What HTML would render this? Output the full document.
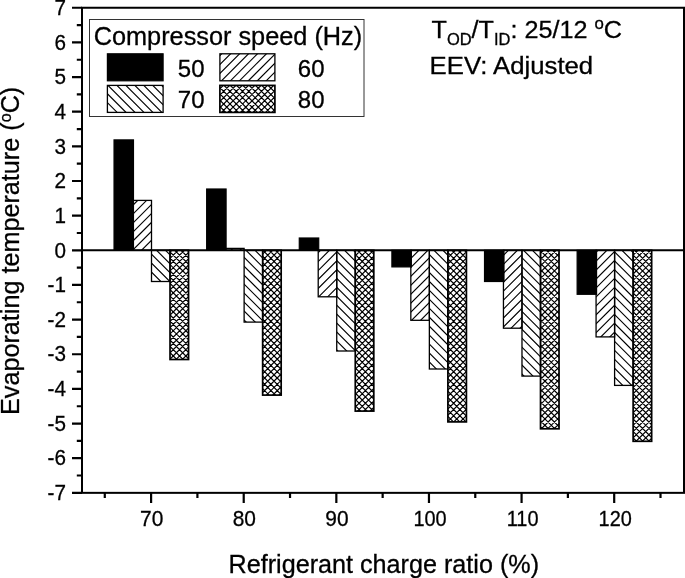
<!DOCTYPE html>
<html lang="en"><head><meta charset="utf-8"><title>Evaporating temperature vs refrigerant charge ratio</title>
<style>html,body{margin:0;padding:0;background:#fff}svg{display:block}text{font-family:"Liberation Sans",Arial,Helvetica,sans-serif;fill:#000;stroke:#000;stroke-width:0.3px}</style></head><body>
<svg width="685" height="578" viewBox="0 0 685 578">
<defs>
<clipPath id="c1"><rect x="132.97" y="200.4" width="18.53" height="49.9"/><rect x="225.59" y="248.4" width="18.53" height="1.9"/><rect x="318.21" y="250.3" width="18.53" height="46.5"/><rect x="410.83" y="250.3" width="18.53" height="70.0"/><rect x="503.45" y="250.3" width="18.53" height="77.9"/><rect x="596.07" y="250.3" width="18.53" height="86.6"/><rect x="219.9" y="53.8" width="55.0" height="27"/></clipPath>
<clipPath id="c2"><rect x="151.5" y="250.3" width="18.53" height="31.2"/><rect x="244.12" y="250.3" width="18.53" height="71.8"/><rect x="336.74" y="250.3" width="18.53" height="100.7"/><rect x="429.36" y="250.3" width="18.53" height="118.7"/><rect x="521.98" y="250.3" width="18.53" height="125.8"/><rect x="614.6" y="250.3" width="18.53" height="135.1"/><rect x="107.4" y="85.4" width="55.7" height="27"/></clipPath>
<clipPath id="c3"><rect x="170.03" y="250.3" width="18.53" height="109.2"/><rect x="262.65" y="250.3" width="18.53" height="144.8"/><rect x="355.27" y="250.3" width="18.53" height="160.8"/><rect x="447.89" y="250.3" width="18.53" height="171.6"/><rect x="540.51" y="250.3" width="18.53" height="178.5"/><rect x="633.13" y="250.3" width="18.53" height="191.0"/><rect x="219.9" y="85.4" width="55.0" height="27"/></clipPath>
</defs>
<rect width="685" height="578" fill="#fff"/>
<rect x="89.5" y="19.5" width="274.5" height="97" fill="#fff" stroke="#333" stroke-width="1"/>
<path clip-path="url(#c1)" d="M100,32.25L660,-527.75M100,41.20L660,-518.80M100,50.15L660,-509.85M100,59.10L660,-500.90M100,68.05L660,-491.95M100,77.00L660,-483.00M100,85.95L660,-474.05M100,94.90L660,-465.10M100,103.85L660,-456.15M100,112.80L660,-447.20M100,121.75L660,-438.25M100,130.70L660,-429.30M100,139.65L660,-420.35M100,148.60L660,-411.40M100,157.55L660,-402.45M100,166.50L660,-393.50M100,175.45L660,-384.55M100,184.40L660,-375.60M100,193.35L660,-366.65M100,202.30L660,-357.70M100,211.25L660,-348.75M100,220.20L660,-339.80M100,229.15L660,-330.85M100,238.10L660,-321.90M100,247.05L660,-312.95M100,256.00L660,-304.00M100,264.95L660,-295.05M100,273.90L660,-286.10M100,282.85L660,-277.15M100,291.80L660,-268.20M100,300.75L660,-259.25M100,309.70L660,-250.30M100,318.65L660,-241.35M100,327.60L660,-232.40M100,336.55L660,-223.45M100,345.50L660,-214.50M100,354.45L660,-205.55M100,363.40L660,-196.60M100,372.35L660,-187.65M100,381.30L660,-178.70M100,390.25L660,-169.75M100,399.20L660,-160.80M100,408.15L660,-151.85M100,417.10L660,-142.90M100,426.05L660,-133.95M100,435.00L660,-125.00M100,443.95L660,-116.05M100,452.90L660,-107.10M100,461.85L660,-98.15M100,470.80L660,-89.20M100,479.75L660,-80.25M100,488.70L660,-71.30M100,497.65L660,-62.35M100,506.60L660,-53.40M100,515.55L660,-44.45M100,524.50L660,-35.50M100,533.45L660,-26.55M100,542.40L660,-17.60M100,551.35L660,-8.65M100,560.30L660,0.30M100,569.25L660,9.25M100,578.20L660,18.20M100,587.15L660,27.15M100,596.10L660,36.10M100,605.05L660,45.05M100,614.00L660,54.00M100,622.95L660,62.95M100,631.90L660,71.90M100,640.85L660,80.85M100,649.80L660,89.80M100,658.75L660,98.75M100,667.70L660,107.70M100,676.65L660,116.65M100,685.60L660,125.60M100,694.55L660,134.55M100,703.50L660,143.50M100,712.45L660,152.45M100,721.40L660,161.40M100,730.35L660,170.35M100,739.30L660,179.30M100,748.25L660,188.25M100,757.20L660,197.20M100,766.15L660,206.15M100,775.10L660,215.10M100,784.05L660,224.05M100,793.00L660,233.00M100,801.95L660,241.95M100,810.90L660,250.90M100,819.85L660,259.85M100,828.80L660,268.80M100,837.75L660,277.75M100,846.70L660,286.70M100,855.65L660,295.65M100,864.60L660,304.60M100,873.55L660,313.55M100,882.50L660,322.50M100,891.45L660,331.45M100,900.40L660,340.40M100,909.35L660,349.35M100,918.30L660,358.30M100,927.25L660,367.25M100,936.20L660,376.20M100,945.15L660,385.15M100,954.10L660,394.10M100,963.05L660,403.05M100,972.00L660,412.00M100,980.95L660,420.95M100,989.90L660,429.90M100,998.85L660,438.85M100,1007.80L660,447.80M100,1016.75L660,456.75" stroke="#000" stroke-width="1.15" fill="none"/>
<path clip-path="url(#c2)" d="M100,-522.25L660,37.75M100,-513.30L660,46.70M100,-504.35L660,55.65M100,-495.40L660,64.60M100,-486.45L660,73.55M100,-477.50L660,82.50M100,-468.55L660,91.45M100,-459.60L660,100.40M100,-450.65L660,109.35M100,-441.70L660,118.30M100,-432.75L660,127.25M100,-423.80L660,136.20M100,-414.85L660,145.15M100,-405.90L660,154.10M100,-396.95L660,163.05M100,-388.00L660,172.00M100,-379.05L660,180.95M100,-370.10L660,189.90M100,-361.15L660,198.85M100,-352.20L660,207.80M100,-343.25L660,216.75M100,-334.30L660,225.70M100,-325.35L660,234.65M100,-316.40L660,243.60M100,-307.45L660,252.55M100,-298.50L660,261.50M100,-289.55L660,270.45M100,-280.60L660,279.40M100,-271.65L660,288.35M100,-262.70L660,297.30M100,-253.75L660,306.25M100,-244.80L660,315.20M100,-235.85L660,324.15M100,-226.90L660,333.10M100,-217.95L660,342.05M100,-209.00L660,351.00M100,-200.05L660,359.95M100,-191.10L660,368.90M100,-182.15L660,377.85M100,-173.20L660,386.80M100,-164.25L660,395.75M100,-155.30L660,404.70M100,-146.35L660,413.65M100,-137.40L660,422.60M100,-128.45L660,431.55M100,-119.50L660,440.50M100,-110.55L660,449.45M100,-101.60L660,458.40M100,-92.65L660,467.35M100,-83.70L660,476.30M100,-74.75L660,485.25M100,-65.80L660,494.20M100,-56.85L660,503.15M100,-47.90L660,512.10M100,-38.95L660,521.05M100,-30.00L660,530.00M100,-21.05L660,538.95M100,-12.10L660,547.90M100,-3.15L660,556.85M100,5.80L660,565.80M100,14.75L660,574.75M100,23.70L660,583.70M100,32.65L660,592.65M100,41.60L660,601.60M100,50.55L660,610.55M100,59.50L660,619.50M100,68.45L660,628.45M100,77.40L660,637.40M100,86.35L660,646.35M100,95.30L660,655.30M100,104.25L660,664.25M100,113.20L660,673.20M100,122.15L660,682.15M100,131.10L660,691.10M100,140.05L660,700.05M100,149.00L660,709.00M100,157.95L660,717.95M100,166.90L660,726.90M100,175.85L660,735.85M100,184.80L660,744.80M100,193.75L660,753.75M100,202.70L660,762.70M100,211.65L660,771.65M100,220.60L660,780.60M100,229.55L660,789.55M100,238.50L660,798.50M100,247.45L660,807.45M100,256.40L660,816.40M100,265.35L660,825.35M100,274.30L660,834.30M100,283.25L660,843.25M100,292.20L660,852.20M100,301.15L660,861.15M100,310.10L660,870.10M100,319.05L660,879.05M100,328.00L660,888.00M100,336.95L660,896.95M100,345.90L660,905.90M100,354.85L660,914.85M100,363.80L660,923.80M100,372.75L660,932.75M100,381.70L660,941.70M100,390.65L660,950.65M100,399.60L660,959.60M100,408.55L660,968.55M100,417.50L660,977.50M100,426.45L660,986.45M100,435.40L660,995.40M100,444.35L660,1004.35M100,453.30L660,1013.30" stroke="#000" stroke-width="1.15" fill="none"/>
<path clip-path="url(#c3)" d="M100,38.60L660,-521.40M100,44.90L660,-515.10M100,51.20L660,-508.80M100,57.50L660,-502.50M100,63.80L660,-496.20M100,70.10L660,-489.90M100,76.40L660,-483.60M100,82.70L660,-477.30M100,89.00L660,-471.00M100,95.30L660,-464.70M100,101.60L660,-458.40M100,107.90L660,-452.10M100,114.20L660,-445.80M100,120.50L660,-439.50M100,126.80L660,-433.20M100,133.10L660,-426.90M100,139.40L660,-420.60M100,145.70L660,-414.30M100,152.00L660,-408.00M100,158.30L660,-401.70M100,164.60L660,-395.40M100,170.90L660,-389.10M100,177.20L660,-382.80M100,183.50L660,-376.50M100,189.80L660,-370.20M100,196.10L660,-363.90M100,202.40L660,-357.60M100,208.70L660,-351.30M100,215.00L660,-345.00M100,221.30L660,-338.70M100,227.60L660,-332.40M100,233.90L660,-326.10M100,240.20L660,-319.80M100,246.50L660,-313.50M100,252.80L660,-307.20M100,259.10L660,-300.90M100,265.40L660,-294.60M100,271.70L660,-288.30M100,278.00L660,-282.00M100,284.30L660,-275.70M100,290.60L660,-269.40M100,296.90L660,-263.10M100,303.20L660,-256.80M100,309.50L660,-250.50M100,315.80L660,-244.20M100,322.10L660,-237.90M100,328.40L660,-231.60M100,334.70L660,-225.30M100,341.00L660,-219.00M100,347.30L660,-212.70M100,353.60L660,-206.40M100,359.90L660,-200.10M100,366.20L660,-193.80M100,372.50L660,-187.50M100,378.80L660,-181.20M100,385.10L660,-174.90M100,391.40L660,-168.60M100,397.70L660,-162.30M100,404.00L660,-156.00M100,410.30L660,-149.70M100,416.60L660,-143.40M100,422.90L660,-137.10M100,429.20L660,-130.80M100,435.50L660,-124.50M100,441.80L660,-118.20M100,448.10L660,-111.90M100,454.40L660,-105.60M100,460.70L660,-99.30M100,467.00L660,-93.00M100,473.30L660,-86.70M100,479.60L660,-80.40M100,485.90L660,-74.10M100,492.20L660,-67.80M100,498.50L660,-61.50M100,504.80L660,-55.20M100,511.10L660,-48.90M100,517.40L660,-42.60M100,523.70L660,-36.30M100,530.00L660,-30.00M100,536.30L660,-23.70M100,542.60L660,-17.40M100,548.90L660,-11.10M100,555.20L660,-4.80M100,561.50L660,1.50M100,567.80L660,7.80M100,574.10L660,14.10M100,580.40L660,20.40M100,586.70L660,26.70M100,593.00L660,33.00M100,599.30L660,39.30M100,605.60L660,45.60M100,611.90L660,51.90M100,618.20L660,58.20M100,624.50L660,64.50M100,630.80L660,70.80M100,637.10L660,77.10M100,643.40L660,83.40M100,649.70L660,89.70M100,656.00L660,96.00M100,662.30L660,102.30M100,668.60L660,108.60M100,674.90L660,114.90M100,681.20L660,121.20M100,687.50L660,127.50M100,693.80L660,133.80M100,700.10L660,140.10M100,706.40L660,146.40M100,712.70L660,152.70M100,719.00L660,159.00M100,725.30L660,165.30M100,731.60L660,171.60M100,737.90L660,177.90M100,744.20L660,184.20M100,750.50L660,190.50M100,756.80L660,196.80M100,763.10L660,203.10M100,769.40L660,209.40M100,775.70L660,215.70M100,782.00L660,222.00M100,788.30L660,228.30M100,794.60L660,234.60M100,800.90L660,240.90M100,807.20L660,247.20M100,813.50L660,253.50M100,819.80L660,259.80M100,826.10L660,266.10M100,832.40L660,272.40M100,838.70L660,278.70M100,845.00L660,285.00M100,851.30L660,291.30M100,857.60L660,297.60M100,863.90L660,303.90M100,870.20L660,310.20M100,876.50L660,316.50M100,882.80L660,322.80M100,889.10L660,329.10M100,895.40L660,335.40M100,901.70L660,341.70M100,908.00L660,348.00M100,914.30L660,354.30M100,920.60L660,360.60M100,926.90L660,366.90M100,933.20L660,373.20M100,939.50L660,379.50M100,945.80L660,385.80M100,952.10L660,392.10M100,958.40L660,398.40M100,964.70L660,404.70M100,971.00L660,411.00M100,977.30L660,417.30M100,983.60L660,423.60M100,989.90L660,429.90M100,996.20L660,436.20M100,1002.50L660,442.50M100,1008.80L660,448.80M100,1015.10L660,455.10M100,-523.70L660,36.30M100,-517.40L660,42.60M100,-511.10L660,48.90M100,-504.80L660,55.20M100,-498.50L660,61.50M100,-492.20L660,67.80M100,-485.90L660,74.10M100,-479.60L660,80.40M100,-473.30L660,86.70M100,-467.00L660,93.00M100,-460.70L660,99.30M100,-454.40L660,105.60M100,-448.10L660,111.90M100,-441.80L660,118.20M100,-435.50L660,124.50M100,-429.20L660,130.80M100,-422.90L660,137.10M100,-416.60L660,143.40M100,-410.30L660,149.70M100,-404.00L660,156.00M100,-397.70L660,162.30M100,-391.40L660,168.60M100,-385.10L660,174.90M100,-378.80L660,181.20M100,-372.50L660,187.50M100,-366.20L660,193.80M100,-359.90L660,200.10M100,-353.60L660,206.40M100,-347.30L660,212.70M100,-341.00L660,219.00M100,-334.70L660,225.30M100,-328.40L660,231.60M100,-322.10L660,237.90M100,-315.80L660,244.20M100,-309.50L660,250.50M100,-303.20L660,256.80M100,-296.90L660,263.10M100,-290.60L660,269.40M100,-284.30L660,275.70M100,-278.00L660,282.00M100,-271.70L660,288.30M100,-265.40L660,294.60M100,-259.10L660,300.90M100,-252.80L660,307.20M100,-246.50L660,313.50M100,-240.20L660,319.80M100,-233.90L660,326.10M100,-227.60L660,332.40M100,-221.30L660,338.70M100,-215.00L660,345.00M100,-208.70L660,351.30M100,-202.40L660,357.60M100,-196.10L660,363.90M100,-189.80L660,370.20M100,-183.50L660,376.50M100,-177.20L660,382.80M100,-170.90L660,389.10M100,-164.60L660,395.40M100,-158.30L660,401.70M100,-152.00L660,408.00M100,-145.70L660,414.30M100,-139.40L660,420.60M100,-133.10L660,426.90M100,-126.80L660,433.20M100,-120.50L660,439.50M100,-114.20L660,445.80M100,-107.90L660,452.10M100,-101.60L660,458.40M100,-95.30L660,464.70M100,-89.00L660,471.00M100,-82.70L660,477.30M100,-76.40L660,483.60M100,-70.10L660,489.90M100,-63.80L660,496.20M100,-57.50L660,502.50M100,-51.20L660,508.80M100,-44.90L660,515.10M100,-38.60L660,521.40M100,-32.30L660,527.70M100,-26.00L660,534.00M100,-19.70L660,540.30M100,-13.40L660,546.60M100,-7.10L660,552.90M100,-0.80L660,559.20M100,5.50L660,565.50M100,11.80L660,571.80M100,18.10L660,578.10M100,24.40L660,584.40M100,30.70L660,590.70M100,37.00L660,597.00M100,43.30L660,603.30M100,49.60L660,609.60M100,55.90L660,615.90M100,62.20L660,622.20M100,68.50L660,628.50M100,74.80L660,634.80M100,81.10L660,641.10M100,87.40L660,647.40M100,93.70L660,653.70M100,100.00L660,660.00M100,106.30L660,666.30M100,112.60L660,672.60M100,118.90L660,678.90M100,125.20L660,685.20M100,131.50L660,691.50M100,137.80L660,697.80M100,144.10L660,704.10M100,150.40L660,710.40M100,156.70L660,716.70M100,163.00L660,723.00M100,169.30L660,729.30M100,175.60L660,735.60M100,181.90L660,741.90M100,188.20L660,748.20M100,194.50L660,754.50M100,200.80L660,760.80M100,207.10L660,767.10M100,213.40L660,773.40M100,219.70L660,779.70M100,226.00L660,786.00M100,232.30L660,792.30M100,238.60L660,798.60M100,244.90L660,804.90M100,251.20L660,811.20M100,257.50L660,817.50M100,263.80L660,823.80M100,270.10L660,830.10M100,276.40L660,836.40M100,282.70L660,842.70M100,289.00L660,849.00M100,295.30L660,855.30M100,301.60L660,861.60M100,307.90L660,867.90M100,314.20L660,874.20M100,320.50L660,880.50M100,326.80L660,886.80M100,333.10L660,893.10M100,339.40L660,899.40M100,345.70L660,905.70M100,352.00L660,912.00M100,358.30L660,918.30M100,364.60L660,924.60M100,370.90L660,930.90M100,377.20L660,937.20M100,383.50L660,943.50M100,389.80L660,949.80M100,396.10L660,956.10M100,402.40L660,962.40M100,408.70L660,968.70M100,415.00L660,975.00M100,421.30L660,981.30M100,427.60L660,987.60M100,433.90L660,993.90M100,440.20L660,1000.20M100,446.50L660,1006.50M100,452.80L660,1012.80" stroke="#000" stroke-width="1.2" fill="none"/>
<g stroke="#000" stroke-width="1.3" fill="none"><rect x="132.97" y="200.4" width="18.53" height="49.9"/><rect x="225.59" y="248.4" width="18.53" height="1.9"/><rect x="318.21" y="250.3" width="18.53" height="46.5"/><rect x="410.83" y="250.3" width="18.53" height="70.0"/><rect x="503.45" y="250.3" width="18.53" height="77.9"/><rect x="596.07" y="250.3" width="18.53" height="86.6"/><rect x="219.9" y="53.8" width="55.0" height="27"/></g>
<g stroke="#000" stroke-width="1.3" fill="none"><rect x="151.5" y="250.3" width="18.53" height="31.2"/><rect x="244.12" y="250.3" width="18.53" height="71.8"/><rect x="336.74" y="250.3" width="18.53" height="100.7"/><rect x="429.36" y="250.3" width="18.53" height="118.7"/><rect x="521.98" y="250.3" width="18.53" height="125.8"/><rect x="614.6" y="250.3" width="18.53" height="135.1"/><rect x="107.4" y="85.4" width="55.7" height="27"/></g>
<g stroke="#000" stroke-width="1.7" fill="none"><rect x="170.03" y="250.3" width="18.53" height="109.2"/><rect x="262.65" y="250.3" width="18.53" height="144.8"/><rect x="355.27" y="250.3" width="18.53" height="160.8"/><rect x="447.89" y="250.3" width="18.53" height="171.6"/><rect x="540.51" y="250.3" width="18.53" height="178.5"/><rect x="633.13" y="250.3" width="18.53" height="191.0"/><rect x="219.9" y="85.4" width="55.0" height="27"/></g>
<g stroke="#000" stroke-width="1.2" fill="#000"><rect x="114.04" y="139.9" width="19.43" height="110.4"/><rect x="206.66" y="189.0" width="19.43" height="61.3"/><rect x="299.28" y="238.0" width="19.43" height="12.3"/><rect x="391.9" y="250.3" width="19.43" height="16.6"/><rect x="484.52" y="250.3" width="19.43" height="31.2"/><rect x="577.14" y="250.3" width="19.43" height="44.0"/><rect x="107.4" y="53.8" width="55.7" height="27"/></g>
<g stroke="#000" stroke-width="2" fill="none" stroke-linecap="butt">
<rect x="82.0" y="7.75" width="602.0" height="485.1"/>
<line x1="82.0" y1="250.30" x2="684.0" y2="250.30"/>
<path stroke-width="2.2" d="M72.0,492.85H82.0M76.8,475.52H82.0M72.0,458.20H82.0M76.8,440.88H82.0M72.0,423.55H82.0M76.8,406.23H82.0M72.0,388.90H82.0M76.8,371.57H82.0M72.0,354.25H82.0M76.8,336.93H82.0M72.0,319.60H82.0M76.8,302.27H82.0M72.0,284.95H82.0M76.8,267.62H82.0M72.0,250.30H82.0M76.8,232.98H82.0M72.0,215.65H82.0M76.8,198.33H82.0M72.0,181.00H82.0M76.8,163.68H82.0M72.0,146.35H82.0M76.8,129.03H82.0M72.0,111.70H82.0M76.8,94.38H82.0M72.0,77.05H82.0M76.8,59.73H82.0M72.0,42.40H82.0M76.8,25.08H82.0M72.0,7.75H82.0M104.79,492.85V498.1M151.10,492.85V502.9M197.41,492.85V498.1M243.72,492.85V502.9M290.03,492.85V498.1M336.34,492.85V502.9M382.65,492.85V498.1M428.96,492.85V502.9M475.27,492.85V498.1M521.58,492.85V502.9M567.89,492.85V498.1M614.20,492.85V502.9M660.51,492.85V498.1"/>
</g>
<text transform="translate(65.9,15.0) scale(0.92,1)" font-size="22.5px" text-anchor="end">7</text>
<text transform="translate(65.9,49.6) scale(0.92,1)" font-size="22.5px" text-anchor="end">6</text>
<text transform="translate(65.9,84.3) scale(0.92,1)" font-size="22.5px" text-anchor="end">5</text>
<text transform="translate(65.9,118.9) scale(0.92,1)" font-size="22.5px" text-anchor="end">4</text>
<text transform="translate(65.9,153.6) scale(0.92,1)" font-size="22.5px" text-anchor="end">3</text>
<text transform="translate(65.9,188.2) scale(0.92,1)" font-size="22.5px" text-anchor="end">2</text>
<text transform="translate(65.9,222.8) scale(0.92,1)" font-size="22.5px" text-anchor="end">1</text>
<text transform="translate(65.9,257.5) scale(0.92,1)" font-size="22.5px" text-anchor="end">0</text>
<text transform="translate(65.9,292.1) scale(0.92,1)" font-size="22.5px" text-anchor="end">-1</text>
<text transform="translate(65.9,326.8) scale(0.92,1)" font-size="22.5px" text-anchor="end">-2</text>
<text transform="translate(65.9,361.4) scale(0.92,1)" font-size="22.5px" text-anchor="end">-3</text>
<text transform="translate(65.9,396.1) scale(0.92,1)" font-size="22.5px" text-anchor="end">-4</text>
<text transform="translate(65.9,430.8) scale(0.92,1)" font-size="22.5px" text-anchor="end">-5</text>
<text transform="translate(65.9,465.4) scale(0.92,1)" font-size="22.5px" text-anchor="end">-6</text>
<text transform="translate(65.9,500.1) scale(0.92,1)" font-size="22.5px" text-anchor="end">-7</text>
<text transform="translate(151.7,525.8) scale(0.93,1)" font-size="22.5px" text-anchor="middle">70</text>
<text transform="translate(244.3,525.8) scale(0.93,1)" font-size="22.5px" text-anchor="middle">80</text>
<text transform="translate(336.9,525.8) scale(0.93,1)" font-size="22.5px" text-anchor="middle">90</text>
<text transform="translate(430.0,525.8) scale(0.885,1)" font-size="22.5px" text-anchor="middle">100</text>
<text transform="translate(522.6,525.8) scale(0.885,1)" font-size="22.5px" text-anchor="middle">110</text>
<text transform="translate(615.2,525.8) scale(0.885,1)" font-size="22.5px" text-anchor="middle">120</text>
<text transform="translate(383.8,572.7) scale(1.007,1)" font-size="25px" text-anchor="middle">Refrigerant charge ratio (%)</text>
<text transform="translate(19.2,250.9) rotate(-90) scale(1.008,1.0)" font-size="25px" text-anchor="middle">Evaporating temperature (<tspan font-size="16px" dy="-8.7">o</tspan><tspan dy="8.7">C)</tspan></text>
<text transform="translate(93.7,45.4) scale(1.012,1)" font-size="25px">Compressor speed (Hz)</text>
<text transform="translate(177.8,76.8)" font-size="24px">50</text>
<text transform="translate(297.8,76.8)" font-size="24px">60</text>
<text transform="translate(177.8,107.6)" font-size="24px">70</text>
<text transform="translate(297.8,107.6)" font-size="24px">80</text>
<text transform="translate(431.5,38) scale(1.05,1)" font-size="24px">T<tspan font-size="15.7px" dy="6.5">OD</tspan><tspan dy="-6.5">/T</tspan><tspan font-size="15.7px" dy="6.5">ID</tspan><tspan dy="-6.5">: 25/12 </tspan><tspan font-size="16px" dy="-8.7">o</tspan><tspan dy="8.7">C</tspan></text>
<text transform="translate(429.6,74.2) scale(1.073,1)" font-size="24px">EEV: Adjusted</text>
</svg></body></html>
